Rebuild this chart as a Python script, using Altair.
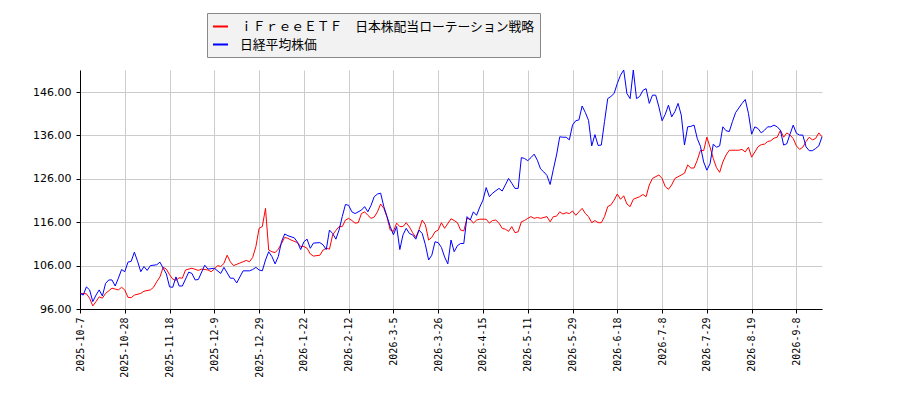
import altair as alt
import pandas as pd

ETF_NAME = "ｉＦｒｅｅＥＴＦ　日本株配当ローテーション戦略"
NK_NAME = "日経平均株価"

# x = trading-day index from 2025-10-7; one tick label every 14 days
TICK_STEP = 14
TICK_LABELS = [
    "2025-10-7", "2025-10-28", "2025-11-18", "2025-12-9", "2025-12-29",
    "2026-1-22", "2026-2-12", "2026-3-5", "2026-3-26", "2026-4-15",
    "2026-5-11", "2026-5-29", "2026-6-18", "2026-7-8", "2026-7-29",
    "2026-8-19", "2026-9-8",
]
LAST_DAY = 232

ETF_DAYS = [
    0, 2, 3, 4, 5, 6, 7, 8, 10, 11, 12, 13, 14, 15, 16, 17, 19, 20, 22, 23,
    24, 25, 26, 27, 28, 29, 30, 31, 32, 33, 35, 37, 38, 40, 41, 42, 43, 44, 45, 46,
    47, 48, 50, 51, 52, 53, 54, 55, 56, 57, 58, 59, 60, 61, 62, 63, 64, 65, 66, 68,
    69, 70, 71, 72, 73, 75, 76, 77, 78, 79, 80, 81, 82, 83, 84, 85, 86, 87, 88, 89,
    90, 91, 92, 93, 94, 95, 96, 97, 98, 99, 100, 101, 102, 103, 104, 105, 106, 107, 108, 109,
    110, 111, 112, 113, 114, 116, 117, 118, 119, 120, 121, 122, 123, 124, 125, 126, 127, 128, 129, 130,
    131, 132, 133, 134, 135, 136, 137, 138, 139, 140, 141, 142, 143, 144, 146, 147, 148, 149, 150, 151,
    152, 153, 154, 155, 156, 157, 158, 159, 160, 161, 162, 163, 164, 165, 166, 167, 168, 169, 170, 171,
    172, 173, 175, 176, 177, 178, 179, 181, 182, 183, 184, 185, 186, 188, 189, 190, 191, 192, 193, 194,
    195, 196, 197, 198, 199, 200, 201, 202, 203, 205, 206, 207, 208, 209, 210, 211, 212, 213, 214, 215,
    216, 217, 218, 219, 220, 221, 222, 223, 224, 225, 226, 227, 228, 229, 230, 231, 232,
]
ETF_VALUES = [
    99.6, 99.5, 98.5, 96.7, 97.7, 98.8, 98.5, 99.6, 100.8, 100.6, 100.4, 101.0, 100.4, 98.7, 98.6, 99.2, 99.6, 100.1, 100.4, 101.0,
    102.3, 103.4, 105.6, 105.2, 103.9, 102.9, 102.6, 103.2, 103.1, 105.0, 105.4, 104.9, 105.2, 105.0, 104.6, 105.2, 106.0, 105.8, 106.5, 108.4,
    106.9, 106.0, 106.6, 106.9, 107.2, 106.9, 107.9, 110.4, 114.6, 115.0, 119.2, 109.6, 109.2, 109.0, 109.8, 111.1, 112.5, 112.3, 111.9, 111.3,
    110.4, 110.4, 110.0, 108.7, 108.2, 108.4, 109.6, 110.0, 109.8, 113.1, 114.1, 115.0, 115.0, 116.5, 116.9, 116.4, 115.8, 115.9, 118.0, 118.4,
    117.6, 116.9, 117.2, 118.4, 120.2, 119.2, 117.2, 114.2, 113.9, 115.8, 115.0, 115.0, 115.9, 114.9, 113.6, 112.5, 114.3, 116.5, 115.4, 111.9,
    112.5, 113.8, 114.2, 115.9, 114.6, 116.8, 116.4, 115.9, 114.2, 114.0, 116.9, 116.7, 115.8, 116.5, 116.7, 116.7, 116.7, 115.8, 116.4, 116.5,
    115.8, 114.6, 114.4, 113.9, 115.0, 113.6, 113.8, 116.1, 116.4, 116.9, 117.3, 116.9, 117.1, 116.9, 117.3, 116.1, 117.3, 117.4, 118.4, 117.9,
    118.2, 118.0, 118.6, 117.6, 118.4, 119.2, 118.0, 117.3, 115.9, 116.4, 115.9, 115.9, 117.3, 119.6, 120.0, 121.1, 122.5, 121.3, 122.1, 120.2,
    119.6, 121.3, 121.9, 122.4, 121.9, 124.6, 126.1, 126.9, 126.1, 124.2, 123.6, 124.6, 126.1, 126.9, 127.3, 129.2, 128.5, 128.5, 130.3, 132.6,
    132.5, 135.6, 133.3, 130.7, 128.6, 127.5, 129.9, 131.5, 132.6, 132.6, 132.6, 132.8, 132.2, 133.3, 131.0, 132.2, 133.4, 133.9, 134.0, 134.6,
    134.8, 135.4, 135.6, 137.2, 135.6, 136.6, 136.1, 135.3, 133.6, 132.8, 133.3, 134.6, 135.6, 135.0, 135.3, 136.6, 135.7,
]

NK_DAYS = [
    0, 1, 2, 3, 4, 5, 6, 7, 8, 9, 10, 11, 12, 13, 14, 15, 16, 17, 18, 19,
    20, 21, 22, 24, 25, 26, 27, 28, 29, 30, 31, 32, 34, 35, 36, 37, 39, 40, 42, 44,
    45, 47, 48, 49, 51, 53, 54, 55, 56, 57, 58, 59, 60, 61, 62, 63, 64, 65, 67, 68,
    69, 70, 71, 72, 73, 75, 76, 77, 78, 79, 80, 81, 82, 83, 84, 85, 86, 88, 89, 90,
    91, 92, 93, 94, 95, 96, 97, 98, 99, 100, 101, 102, 103, 104, 105, 106, 107, 108, 109, 110,
    111, 112, 113, 114, 115, 116, 117, 118, 119, 120, 121, 122, 123, 124, 125, 126, 127, 128, 129, 131,
    132, 133, 134, 135, 136, 137, 138, 139, 140, 141, 142, 143, 144, 145, 146, 147, 148, 149, 150, 151,
    152, 153, 154, 155, 156, 157, 158, 159, 160, 161, 162, 163, 164, 165, 166, 167, 168, 169, 170, 171,
    172, 173, 174, 175, 176, 177, 178, 179, 180, 181, 182, 183, 184, 185, 186, 187, 188, 189, 190, 191,
    192, 193, 194, 195, 196, 197, 198, 199, 200, 201, 202, 203, 204, 205, 207, 208, 209, 210, 211, 212,
    213, 214, 215, 216, 217, 218, 219, 220, 221, 222, 223, 224, 225, 226, 227, 228, 229, 230, 231, 232,
]
NK_VALUES = [
    99.6, 99.2, 101.1, 100.4, 97.7, 99.2, 100.4, 99.0, 101.9, 102.7, 102.7, 101.3, 103.1, 105.1, 104.6, 106.8, 107.0, 109.1, 107.0, 104.6,
    105.8, 104.9, 106.0, 106.2, 106.8, 105.4, 104.1, 101.1, 101.0, 103.4, 101.3, 101.3, 104.5, 104.2, 102.7, 102.8, 106.1, 105.2, 105.4, 104.2,
    105.6, 103.1, 103.1, 102.0, 104.8, 104.8, 105.1, 105.6, 105.0, 104.8, 107.3, 109.2, 108.1, 106.4, 108.1, 111.5, 113.3, 112.9, 112.4, 111.4,
    109.7, 111.5, 112.1, 110.0, 111.2, 111.3, 110.8, 109.7, 114.2, 113.4, 112.1, 114.2, 117.3, 120.1, 119.9, 118.4, 118.0, 118.8, 119.6, 118.4,
    119.9, 121.9, 122.5, 122.7, 119.6, 117.3, 115.0, 113.1, 115.0, 109.7, 113.1, 114.6, 113.4, 113.1, 112.1, 114.2, 113.4, 110.8, 107.3, 108.4,
    111.5, 111.3, 110.2, 108.0, 106.4, 111.9, 109.2, 110.6, 111.1, 111.1, 117.3, 116.5, 118.4, 117.6, 119.5, 121.1, 124.0, 121.9, 122.7, 123.8,
    123.2, 124.6, 126.1, 125.0, 123.8, 123.8, 130.9, 130.7, 130.2, 130.9, 131.7, 130.3, 128.3, 127.6, 126.8, 124.7, 128.2, 131.5, 135.7, 135.6,
    135.6, 135.0, 138.4, 139.4, 139.6, 142.8, 141.3, 139.5, 133.6, 136.2, 133.7, 133.8, 139.2, 144.5, 145.0, 145.7, 148.0, 149.9, 151.1, 145.7,
    144.5, 151.1, 144.5, 145.0, 146.4, 146.8, 143.4, 145.3, 145.3, 142.6, 139.4, 140.9, 143.0, 140.3, 141.5, 143.4, 140.7, 133.8, 138.0, 138.1,
    138.4, 135.3, 133.5, 129.9, 128.0, 129.5, 134.0, 133.3, 133.6, 138.0, 137.1, 136.9, 139.2, 141.3, 143.4, 144.3, 141.1, 136.3, 138.0, 137.6,
    136.6, 137.2, 138.0, 138.0, 138.4, 138.0, 137.2, 133.8, 134.1, 136.3, 138.4, 136.5, 136.1, 136.1, 133.4, 132.5, 132.5, 133.0, 133.6, 135.7,
]

Y_TICKS = [96, 106, 116, 126, 136, 146]

df = pd.concat([
    pd.DataFrame({"day": ETF_DAYS, "value": ETF_VALUES, "series": ETF_NAME}),
    pd.DataFrame({"day": NK_DAYS, "value": NK_VALUES, "series": NK_NAME}),
])

label_expr = "[" + ",".join(f"'{t}'" for t in TICK_LABELS) + f"][datum.value / {TICK_STEP}]"

chart = (
    alt.Chart(df)
    .mark_line(strokeWidth=1)
    .encode(
        x=alt.X(
            "day:Q",
            scale=alt.Scale(domain=[0, LAST_DAY], nice=False, zero=False),
            axis=alt.Axis(
                title=None,
                values=[i * TICK_STEP for i in range(len(TICK_LABELS))],
                labelExpr=label_expr,
                labelAngle=270,
                labelAlign="right",
                labelBaseline="middle",
                labelFont="DejaVu Sans Mono",
                labelFontSize=10,
                labelPadding=4,
            ),
        ),
        y=alt.Y(
            "value:Q",
            scale=alt.Scale(domain=[96, 151.1], nice=False, zero=False),
            axis=alt.Axis(
                title=None,
                values=Y_TICKS,
                format=".2f",
                labelFont="DejaVu Sans",
                labelFontSize=11,
                labelPadding=5,
            ),
        ),
        color=alt.Color(
            "series:N",
            scale=alt.Scale(domain=[ETF_NAME, NK_NAME], range=["#ff0000", "#0000ff"]),
            legend=alt.Legend(
                title=None,
                orient="none",
                legendX=127,
                legendY=-57,
                symbolType="stroke",
                symbolSize=225,
                symbolStrokeWidth=2,
                labelFont="Noto Sans CJK JP",
                labelFontSize=12.8,
                labelColor="#000000",
                labelOffset=11,
                labelLimit=400,
                rowPadding=2,
                padding=5,
                fillColor="#f2f2f2",
                strokeColor="#888888",
                cornerRadius=0,
            ),
        ),
        detail="series:N",
        order="day:Q",
    )
    .properties(
        width=742,
        height=239,
        autosize=alt.AutoSizeParams(type="none"),
        padding={"left": 72, "top": 62, "right": 70, "bottom": 80},
    )
    .configure_view(stroke=None)
    .configure_axis(
        domainColor="#000000",
        tickColor="#000000",
        tickSize=4,
        labelColor="#000000",
        gridColor="#cccccc",
        gridWidth=1,
    )
)

chart.save("out.html", embed_options={"renderer": "svg", "actions": False})
